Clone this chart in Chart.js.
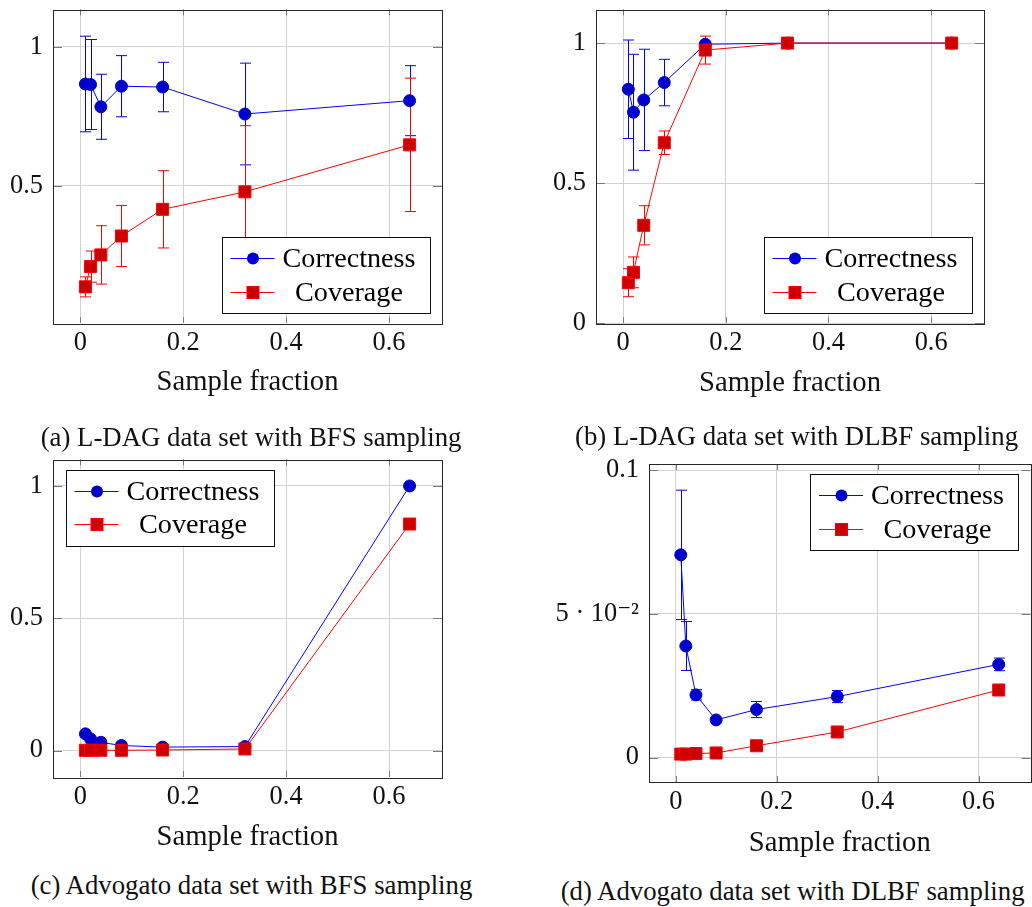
<!DOCTYPE html>
<html>
<head>
<meta charset="utf-8">
<script src="https://cdn.jsdelivr.net/npm/chart.js@4/dist/chart.umd.min.js"></script>
<style>
  html, body { margin: 0; padding: 0; background: #fff; width: 1032px; height: 907px; overflow: hidden; }
  canvas { position: absolute; }
  .cap { position: absolute; font-family: "Liberation Serif", "DejaVu Serif", serif; white-space: nowrap; color: #111; line-height: 1; }
</style>
</head>
<body>
<canvas id="chartA"></canvas>
<canvas id="chartB"></canvas>
<canvas id="chartC"></canvas>
<canvas id="chartD"></canvas>
<div class="cap" id="capA"></div>
<div class="cap" id="capB"></div>
<div class="cap" id="capC"></div>
<div class="cap" id="capD"></div>
<script>
// sample fractions (x) shared by all four plots
const fractions = [0.01, 0.02, 0.04, 0.08, 0.16, 0.32, 0.64];
const xTicks = [0, 0.2, 0.4, 0.6];
const seriesNames = ['Correctness', 'Coverage'];

// (a) L-DAG, BFS sampling
const ldagBfsCorrectness    = [0.866, 0.864, 0.784, 0.858, 0.855, 0.758, 0.806];
const ldagBfsCorrectnessErr = [0.172, 0.162, 0.117, 0.110, 0.089, 0.183, 0.126];
const ldagBfsCoverage       = [0.136, 0.209, 0.251, 0.319, 0.415, 0.478, 0.647];
const ldagBfsCoverageErr    = [0.036, 0.056, 0.105, 0.110, 0.139, 0.238, 0.240];
const ldagBfsYTicks = [0.5, 1];

// (b) L-DAG, DLBF sampling
const ldagDlbfCorrectness    = [0.835, 0.753, 0.797, 0.859, 0.996, 1, 1];
const ldagDlbfCorrectnessErr = [0.176, 0.207, 0.181, 0.083, 0.010, 0, 0];
const ldagDlbfCoverage       = [0.144, 0.181, 0.349, 0.644, 0.975, 1, 1];
const ldagDlbfCoverageErr    = [0.050, 0.055, 0.070, 0.042, 0.050, 0, 0];
const ldagDlbfYTicks = [0, 0.5, 1];

// (c) Advogato, BFS sampling
const advBfsCorrectness = [0.063, 0.044, 0.031, 0.019, 0.013, 0.015, 1];
const advBfsCoverage    = [0.001, 0.001, 0.001, 0.001, 0.002, 0.006, 0.856];
const advBfsYTicks = [0, 0.5, 1];

// (d) Advogato, DLBF sampling
const advDlbfCorrectness    = [0.0705, 0.0388, 0.0218, 0.0131, 0.0167, 0.0212, 0.0324];
const advDlbfCorrectnessErr = [0.0225, 0.0085, 0.0018, 0.0005, 0.0028, 0.0021, 0.0022];
const advDlbfCoverage       = [0.0012, 0.0012, 0.0014, 0.0016, 0.0041, 0.0089, 0.0235];
const advDlbfYTicks = [0, 0.05, 0.1];
const advDlbfYTickLabels = ['0', '5 \u00b7 10\u207b\u00b2', '0.1'];

const captions = [
  '(a) L-DAG data set with BFS sampling',
  '(b) L-DAG data set with DLBF sampling',
  '(c) Advogato data set with BFS sampling',
  '(d) Advogato data set with DLBF sampling'
];

const FONT = '"Liberation Serif", "DejaVu Serif", serif';
const measureCtx = document.createElement('canvas').getContext('2d');
function fitSize(text, width) {
  measureCtx.font = '100px ' + FONT;
  return 100 * width / measureCtx.measureText(text).width;
}

const tickSize = fitSize('0.5', 33);
const titleSize = fitSize('Sample fraction', 182);
const legendSize = fitSize('Correctness', 133);
const capSize = fitSize(captions[0], 421);

const BLUE_LINE = '#0000ff', BLUE_FILL = '#0000cc';
const RED_LINE = '#ff0000', RED_FILL = '#cc0000';

// box, ticks, error bars and legend in pgfplots style
const pgfStyle = {
  id: 'pgfStyle',
  beforeDatasetsDraw(chart) {
    const ctx = chart.ctx;
    const ys = chart.scales.y;
    ctx.save();
    chart.data.datasets.forEach((ds, i) => {
      if (!ds.errors) return;
      const meta = chart.getDatasetMeta(i);
      ctx.strokeStyle = ds.borderColor;
      ctx.lineWidth = 1;
      ds.errors.forEach((e, j) => {
        if (!e) return;
        const x = Math.round(meta.data[j].x) + 0.5;
        const top = ys.getPixelForValue(ds.values[j] + e);
        const bot = ys.getPixelForValue(ds.values[j] - e);
        ctx.beginPath();
        ctx.moveTo(x, top); ctx.lineTo(x, bot);
        ctx.moveTo(x - 5.5, top); ctx.lineTo(x + 5.5, top);
        ctx.moveTo(x - 5.5, bot); ctx.lineTo(x + 5.5, bot);
        ctx.stroke();
      });
    });
    ctx.restore();
  },
  afterDatasetsDraw(chart) {
    const ctx = chart.ctx;
    const a = chart.chartArea;
    ctx.save();
    ctx.strokeStyle = '#7a7a7a';
    ctx.lineWidth = 1;
    ctx.beginPath();
    chart.scales.x.ticks.forEach(t => {
      const x = Math.round(chart.scales.x.getPixelForValue(t.value)) + 0.5;
      ctx.moveTo(x, a.bottom); ctx.lineTo(x, a.bottom - 6);
      ctx.moveTo(x, a.top); ctx.lineTo(x, a.top + 6);
    });
    chart.scales.y.ticks.forEach(t => {
      const y = Math.round(chart.scales.y.getPixelForValue(t.value)) + 0.5;
      ctx.moveTo(a.left, y); ctx.lineTo(a.left + 9, y);
      ctx.moveTo(a.right, y); ctx.lineTo(a.right - 9, y);
    });
    ctx.stroke();
    ctx.strokeStyle = '#262626';
    ctx.strokeRect(Math.round(a.left) + 0.5, Math.round(a.top) + 0.5,
                   Math.round(a.right - a.left), Math.round(a.bottom - a.top));
    ctx.restore();
  },
  afterDraw(chart, args, opts) {
    const ctx = chart.ctx;
    const a = chart.chartArea;
    const w = 208, h = 76;
    const lx = opts.corner.includes('right') ? a.right - 12.5 - w : a.left + 12.5;
    const ly = opts.corner.includes('bottom') ? a.bottom - 10 - h : a.top + 10;
    ctx.save();
    ctx.fillStyle = '#fff';
    ctx.fillRect(lx, ly, w, h);
    ctx.strokeStyle = '#111';
    ctx.lineWidth = 1;
    ctx.strokeRect(Math.round(lx) + 0.5, Math.round(ly) + 0.5, w, h);
    chart.data.datasets.forEach(ds => {
      const row = ds.label === seriesNames[0] ? 0 : 1;
      const y = Math.round(ly + 21 + row * 33.5) + 0.5;
      ctx.strokeStyle = ds.borderColor;
      ctx.beginPath();
      ctx.moveTo(lx + 9, y); ctx.lineTo(lx + 53, y);
      ctx.stroke();
      ctx.fillStyle = ds.pointBackgroundColor;
      if (ds.pointStyle === 'circle') {
        ctx.beginPath();
        ctx.arc(lx + 31.5, y, 6, 0, Math.PI * 2);
        ctx.fill();
      } else {
        ctx.fillRect(lx + 25.5, y - 6, 12, 12);
        ctx.strokeRect(lx + 25.5, y - 6, 12, 12);
      }
      ctx.fillStyle = '#000';
      ctx.font = legendSize + 'px ' + FONT;
      ctx.textAlign = 'center';
      ctx.textBaseline = 'middle';
      ctx.fillText(ds.label, lx + 127.5, y + 1);
    });
    ctx.restore();
  }
};

function makeDatasets(corr, corrErr, cov, covErr) {
  return [
    {
      label: seriesNames[0], values: corr, errors: corrErr, order: 1,
      data: corr.map((v, i) => ({ x: fractions[i], y: v })),
      borderColor: BLUE_LINE, borderWidth: 1,
      pointStyle: 'circle', pointRadius: 6, pointBackgroundColor: BLUE_FILL,
      pointBorderColor: BLUE_FILL, pointBorderWidth: 1
    },
    {
      label: seriesNames[1], values: cov, errors: covErr, order: 0,
      data: cov.map((v, i) => ({ x: fractions[i], y: v })),
      borderColor: RED_LINE, borderWidth: 1,
      pointStyle: 'rect', pointRadius: 8.5, pointBackgroundColor: RED_FILL,
      pointBorderColor: RED_LINE, pointBorderWidth: 1
    }
  ];
}

function makePanel(id, box, plot, titleY, yMin, yMax, yTicks, yLabels, datasets, corner) {
  const canvas = document.getElementById(id);
  canvas.width = box.w;
  canvas.height = box.h;
  canvas.style.left = box.x + 'px';
  canvas.style.top = box.y + 'px';

  const titleLh = titleSize * 1.2;
  const padBottom = box.y + box.h - titleLh / 2 - titleY;
  const yAxisWidth = plot.l - box.x;
  const xAxisHeight = box.y + box.h - padBottom - plot.b;

  new Chart(canvas.getContext('2d'), {
    type: 'line',
    data: { datasets },
    options: {
      responsive: false,
      animation: false,
      devicePixelRatio: 1,
      layout: { padding: { left: 0, top: plot.t - box.y, right: box.x + box.w - plot.r, bottom: padBottom } },
      plugins: { legend: { display: false }, tooltip: { enabled: false }, pgfStyle: { corner } },
      elements: { line: { tension: 0 } },
      scales: {
        x: {
          type: 'linear', min: -0.053, max: 0.703, offset: false,
          afterBuildTicks: s => { s.ticks = xTicks.map(v => ({ value: v })); },
          afterFit: s => { s.height = xAxisHeight; s.paddingLeft = 0; s.paddingRight = 0; },
          grid: { color: '#d2d2d2', lineWidth: 1, drawTicks: false },
          border: { display: false },
          ticks: { padding: 4, color: '#111', font: { family: FONT, size: tickSize }, maxRotation: 0 },
          title: { display: true, text: 'Sample fraction', color: '#111', padding: 0,
                   font: { family: FONT, size: titleSize } }
        },
        y: {
          type: 'linear', min: yMin, max: yMax,
          afterBuildTicks: s => { s.ticks = yTicks.map(v => ({ value: v })); },
          afterFit: s => { s.width = yAxisWidth; s.paddingTop = 0; s.paddingBottom = 0; },
          grid: { color: '#d2d2d2', lineWidth: 1, drawTicks: false },
          border: { display: false },
          ticks: {
            padding: 10, color: '#111', font: { family: FONT, size: tickSize },
            callback: (v) => yLabels ? yLabels[yTicks.indexOf(v)] : String(v)
          }
        }
      }
    },
    plugins: [pgfStyle]
  });
}

function errorless(data) {
  return data.map(() => 0);
}

makePanel('chartA', { x: 0, y: 0, w: 470, h: 410 }, { l: 53, r: 442, t: 5, b: 323 }, 382,
  0.006, 1.134, ldagBfsYTicks, null,
  makeDatasets(ldagBfsCorrectness, ldagBfsCorrectnessErr, ldagBfsCoverage, ldagBfsCoverageErr), 'bottom-right');

makePanel('chartB', { x: 516, y: 0, w: 516, h: 410 }, { l: 596, r: 984, t: 5, b: 323 }, 383,
  0, 1.12, ldagDlbfYTicks, null,
  makeDatasets(ldagDlbfCorrectness, ldagDlbfCorrectnessErr, ldagDlbfCoverage, ldagDlbfCoverageErr), 'bottom-right');

makePanel('chartC', { x: 0, y: 450, w: 470, h: 410 }, { l: 53, r: 442, t: 459, b: 777 }, 837,
  -0.1, 1.1, advBfsYTicks, null,
  makeDatasets(advBfsCorrectness, errorless(advBfsCorrectness), advBfsCoverage, errorless(advBfsCoverage)), 'top-left');

makePanel('chartD', { x: 516, y: 450, w: 524, h: 410 }, { l: 649, r: 1038, t: 464, b: 782 }, 843,
  -0.0085, 0.1021, advDlbfYTicks, advDlbfYTickLabels,
  makeDatasets(advDlbfCorrectness, advDlbfCorrectnessErr, advDlbfCoverage, errorless(advDlbfCoverage)), 'top-right');

// sub-figure captions
const capPos = [[40.7, 437], [575, 436.5], [30.7, 885.5], [560.7, 891]];
['capA', 'capB', 'capC', 'capD'].forEach((id, i) => {
  const el = document.getElementById(id);
  el.textContent = captions[i];
  el.style.fontSize = capSize + 'px';
  el.style.left = capPos[i][0] + 'px';
  el.style.top = (capPos[i][1] - capSize / 2) + 'px';
});
</script>
</body>
</html>
